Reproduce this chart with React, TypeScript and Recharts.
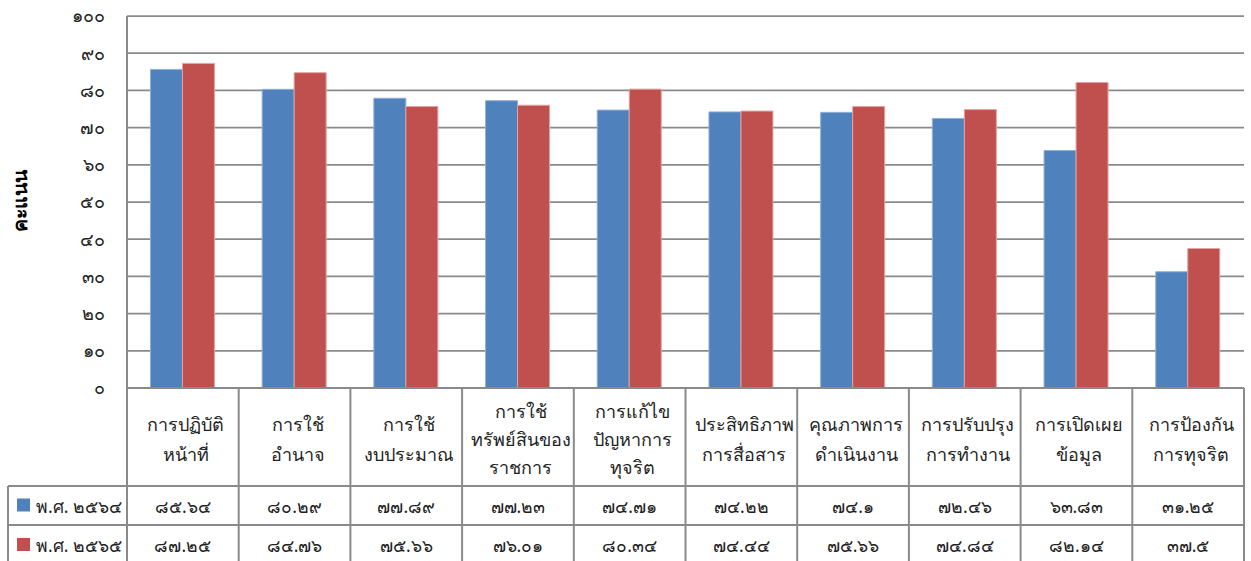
import { Bar, BarChart, CartesianGrid, XAxis, YAxis } from "recharts";

const categories = [
  "การปฏิบัติ\nหน้าที่",
  "การใช้\nอำนาจ",
  "การใช้\nงบประมาณ",
  "การใช้\nทรัพย์สินของ\nราชการ",
  "การแก้ไข\nปัญหาการ\nทุจริต",
  "ประสิทธิภาพ\nการสื่อสาร",
  "คุณภาพการ\nดำเนินงาน",
  "การปรับปรุง\nการทำงาน",
  "การเปิดเผย\nข้อมูล",
  "การป้องกัน\nการทุจริต",
];
const series2564 = [85.64, 80.29, 77.89, 77.23, 74.71, 74.22, 74.1, 72.46, 63.83, 31.25];
const series2565 = [87.25, 84.76, 75.66, 76.01, 80.34, 74.44, 75.66, 74.84, 82.14, 37.5];
const seriesNames = ["พ.ศ. ๒๕๖๔", "พ.ศ. ๒๕๖๕"];
const seriesColors = ["#4f81bd", "#c0504d"];
const yTicks = [0, 10, 20, 30, 40, 50, 60, 70, 80, 90, 100];
const yTitle = "คะแนน";

const thaiDigits = "๐๑๒๓๔๕๖๗๘๙";
const toThai = (v: number | string) =>
  String(v).replace(/[0-9]/g, (d) => thaiDigits[Number(d)]);

const data = categories.map((name, i) => ({
  name,
  y2564: series2564[i],
  y2565: series2565[i],
}));

const W = 1251;
const H = 561;
const PLOT_LEFT = 127;
const PLOT_RIGHT = 1244;
const PLOT_TOP = 16;
const PLOT_BOTTOM = 388;
const BAND = (PLOT_RIGHT - PLOT_LEFT) / categories.length;
const ROW1 = 486;
const ROW2 = 525;
const LINE = "#8a8a8a";
const FONT = "'Noto Sans', sans-serif";
const TEXT = "#222";

function TableTick(props: any) {
  const { x, payload } = props;
  const i = payload.index;
  const left = x - BAND / 2;
  const right = x + BAND / 2;
  const lines = String(payload.value).split("\n");
  const headerMid = (PLOT_BOTTOM + ROW1) / 2 + 2;
  const step = lines.length > 2 ? 28 : 30;
  const start = headerMid - ((lines.length - 1) * step) / 2;
  const vals = [series2564[i], series2565[i]];
  return (
    <g>
      <line x1={left} x2={left} y1={PLOT_BOTTOM} y2={H} stroke={LINE} strokeWidth={2} />
      {i === categories.length - 1 && (
        <line x1={right} x2={right} y1={PLOT_BOTTOM} y2={H} stroke={LINE} strokeWidth={2} />
      )}
      <line x1={left} x2={right} y1={ROW1} y2={ROW1} stroke={LINE} strokeWidth={2} />
      <line x1={left} x2={right} y1={ROW2} y2={ROW2} stroke={LINE} strokeWidth={2} />
      {lines.map((t, k) => (
        <text
          key={k}
          x={x + 3}
          y={start + k * step}
          textAnchor="middle"
          dominantBaseline="central"
          fontFamily={FONT}
          fontSize={18}
          fill={TEXT}
        >
          {t}
        </text>
      ))}
      {vals.map((v, k) => (
        <text
          key={"v" + k}
          x={x}
          y={k === 0 ? (ROW1 + ROW2) / 2 : ROW2 + 20}
          textAnchor="middle"
          dominantBaseline="central"
          fontFamily={FONT}
          fontSize={17.5}
          fill={TEXT}
        >
          {toThai(v)}
        </text>
      ))}
      {i === 0 && (
        <g>
          <line x1={8} x2={left} y1={ROW1} y2={ROW1} stroke={LINE} strokeWidth={2} />
          <line x1={8} x2={left} y1={ROW2} y2={ROW2} stroke={LINE} strokeWidth={2} />
          <line x1={8} x2={8} y1={ROW1} y2={H} stroke={LINE} strokeWidth={2} />
          {seriesNames.map((n, k) => {
            const cy = k === 0 ? (ROW1 + ROW2) / 2 : ROW2 + 20;
            return (
              <g key={n}>
                <rect x={17} y={cy - 7} width={13} height={13} fill={seriesColors[k]} />
                <text
                  x={36}
                  y={cy}
                  dominantBaseline="central"
                  fontFamily={FONT}
                  fontSize={17.5}
                  fill={TEXT}
                >
                  {n}
                </text>
              </g>
            );
          })}
        </g>
      )}
    </g>
  );
}

function YTitle() {
  const cx = 19;
  const cy = 201;
  return (
    <text
      x={cx}
      y={cy}
      transform={`rotate(-90 ${cx} ${cy})`}
      textAnchor="middle"
      dominantBaseline="central"
      fontFamily={FONT}
      fontSize={19.5}
      fontWeight="bold"
      fill="#000"
    >
      {yTitle}
    </text>
  );
}

export default function App() {
  return (
    <div
      style={{
        position: "absolute",
        left: 0,
        top: 0,
        width: W,
        height: H,
        overflow: "hidden",
        background: "#fff",
      }}
    >
      <BarChart
        width={W}
        height={H}
        data={data}
        margin={{ top: PLOT_TOP, right: W - PLOT_RIGHT, left: 0, bottom: 0 }}
        barCategoryGap="21%"
        barGap={0}
      >
        <CartesianGrid vertical={false} stroke={LINE} strokeWidth={1.75} />
        <YAxis
          width={PLOT_LEFT}
          domain={[0, 100]}
          ticks={yTicks}
          interval={0}
          tickSize={0}
          tickMargin={22}
          tickLine={false}
          axisLine={{ stroke: LINE, strokeWidth: 2 }}
          tickFormatter={(v) => toThai(v)}
          tick={{ fontFamily: FONT, fontSize: 18, fill: TEXT }}
          label={{ content: () => <YTitle /> }}
        />
        <XAxis
          dataKey="name"
          height={H - PLOT_BOTTOM}
          interval={0}
          tickLine={false}
          axisLine={{ stroke: LINE, strokeWidth: 2 }}
          tick={<TableTick />}
        />
        <Bar
          dataKey="y2564"
          name={seriesNames[0]}
          fill={seriesColors[0]}
          stroke="#8fb0d9"
          strokeWidth={1}
          isAnimationActive={false}
        />
        <Bar
          dataKey="y2565"
          name={seriesNames[1]}
          fill={seriesColors[1]}
          stroke="#e3a3a1"
          strokeWidth={1}
          isAnimationActive={false}
        />
      </BarChart>
    </div>
  );
}
